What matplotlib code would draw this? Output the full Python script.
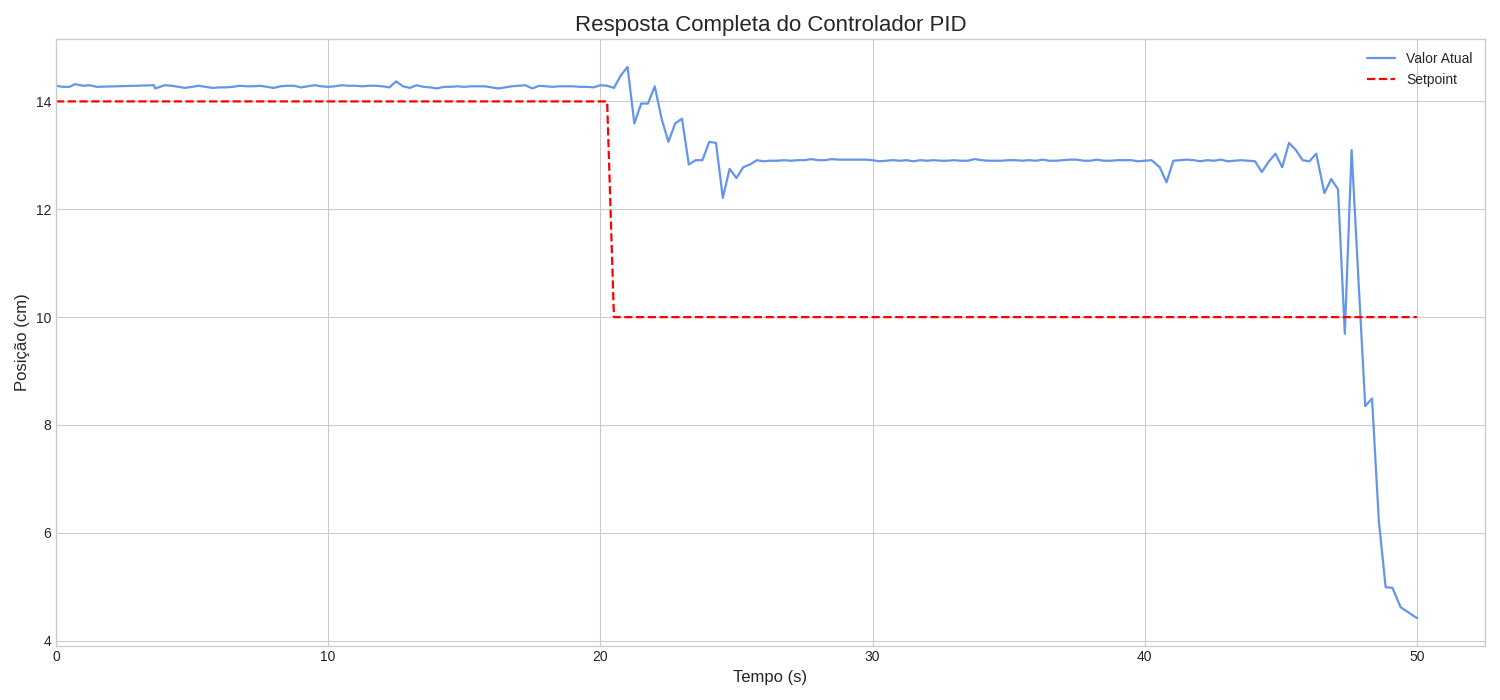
import numpy as np
import matplotlib
matplotlib.use("Agg")
import matplotlib.pyplot as plt

# sample times (s) as logged by the controller
TEMPO = [
    0.0, 0.25, 0.5, 0.7, 1.0, 1.25, 1.5, 3.6, 3.65,
    4.0, 4.25, 4.5, 4.75, 5.0, 5.25, 5.5, 5.75, 6.0, 6.25,
    6.5, 6.75, 7.0, 7.25, 7.5, 7.75, 8.0, 8.25, 8.5, 8.75,
    9.0, 9.25, 9.5, 9.75, 10.0, 10.25, 10.5, 10.75, 11.0, 11.25,
    11.5, 11.75, 12.0, 12.25, 12.5, 12.75, 13.0, 13.25, 13.5, 13.75,
    14.0, 14.25, 14.5, 14.75, 15.0, 15.25, 15.5, 15.75, 16.0, 16.25,
    16.5, 16.75, 17.0, 17.25, 17.5, 17.75, 18.0, 18.25, 18.5, 18.75,
    19.0, 19.25, 19.5, 19.75, 20.0, 20.25,
    20.5, 20.75, 21.0, 21.25, 21.5, 21.75, 22.0, 22.25, 22.5, 22.75,
    23.0, 23.25, 23.5, 23.75, 24.0, 24.25, 24.5, 24.75, 25.0, 25.25,
    25.5, 25.75, 26.0,
    26.25, 26.5, 26.75, 27.0, 27.25, 27.5, 27.75, 28.0, 28.25, 28.5,
    28.75, 29.0, 29.25, 29.5, 29.75, 30.0, 30.25, 30.5, 30.75, 31.0,
    31.25, 31.5, 31.75, 32.0, 32.25, 32.5, 32.75, 33.0, 33.25, 33.5,
    33.75, 34.0, 34.25, 34.5, 34.75, 35.0, 35.25, 35.5, 35.75, 36.0,
    36.25, 36.5, 36.75, 37.0, 37.25, 37.5, 37.75, 38.0, 38.25, 38.5,
    38.75, 39.0, 39.25, 39.5, 39.75, 40.0, 40.25,
    40.55, 40.8, 41.05, 41.3, 41.55, 41.8, 42.05, 42.3, 42.55, 42.8,
    43.05, 43.3, 43.55, 43.8, 44.05, 44.3, 44.55, 44.8, 45.05, 45.3,
    45.55, 45.8, 46.05, 46.3,
    46.6, 46.85, 47.1, 47.35, 47.6, 47.85, 48.1, 48.35, 48.6, 48.85,
    49.1, 49.4, 49.7, 50.0,
]

# measured position (cm)
POSICAO = [
    14.29, 14.27, 14.27, 14.32, 14.29, 14.30, 14.27, 14.30, 14.24,
    14.30, 14.29, 14.27, 14.25, 14.27, 14.29, 14.27, 14.25, 14.26, 14.26,
    14.27, 14.29, 14.28, 14.28, 14.29, 14.27, 14.25, 14.28, 14.29, 14.29,
    14.26, 14.28, 14.30, 14.28, 14.27, 14.28, 14.30, 14.29, 14.29, 14.28,
    14.29, 14.29, 14.28, 14.26, 14.37, 14.28, 14.25, 14.30, 14.27, 14.26,
    14.24, 14.27, 14.27, 14.28, 14.27, 14.28, 14.28, 14.28, 14.26, 14.24,
    14.26, 14.28, 14.29, 14.30, 14.24, 14.29, 14.28, 14.27, 14.28, 14.28,
    14.28, 14.27, 14.27, 14.26, 14.30, 14.29,
    14.25, 14.48, 14.64, 13.59, 13.96, 13.96, 14.28, 13.68, 13.25, 13.59,
    13.68, 12.83, 12.91, 12.91, 13.25, 13.23, 12.21, 12.75, 12.58, 12.78,
    12.83, 12.91, 12.89,
    12.90, 12.90, 12.91, 12.90, 12.91, 12.91, 12.93, 12.91, 12.91, 12.93,
    12.92, 12.92, 12.92, 12.92, 12.92, 12.91, 12.89, 12.90, 12.91, 12.90,
    12.91, 12.89, 12.91, 12.90, 12.91, 12.90, 12.90, 12.91, 12.90, 12.90,
    12.93, 12.91, 12.90, 12.90, 12.90, 12.91, 12.91, 12.90, 12.91, 12.90,
    12.92, 12.90, 12.90, 12.91, 12.92, 12.92, 12.90, 12.90, 12.92, 12.90,
    12.90, 12.91, 12.91, 12.91, 12.89, 12.90, 12.91,
    12.78, 12.50, 12.90, 12.91, 12.92, 12.91, 12.89, 12.91, 12.90, 12.92,
    12.89, 12.90, 12.91, 12.90, 12.89, 12.69, 12.88, 13.03, 12.78, 13.23,
    13.10, 12.91, 12.89, 13.03,
    12.30, 12.56, 12.37, 9.69, 13.10, 10.70, 8.35, 8.49, 6.22, 4.99,
    4.98, 4.62, 4.52, 4.42,
]

# setpoint step: 14 cm, then 10 cm from this time on
SETPOINT_NIVEIS = [14.0, 10.0]
SETPOINT_TROCA = 20.5

plt.style.use("seaborn-v0_8-whitegrid")
plt.rcParams["font.family"] = ["Liberation Sans", "DejaVu Sans"]

t = np.array(TEMPO)
pos = np.array(POSICAO)
sp = np.where(t < SETPOINT_TROCA, SETPOINT_NIVEIS[0], SETPOINT_NIVEIS[1])

fig, ax = plt.subplots(figsize=(15, 7), dpi=100)
ax.plot(t, pos, color="cornflowerblue", lw=1.6, label="Valor Atual")
ax.plot(t, sp, color="red", ls="--", lw=1.6, label="Setpoint")
ax.set_xlim(left=0)
ax.set_title("Resposta Completa do Controlador PID", fontsize=16)
ax.set_xlabel("Tempo (s)", fontsize=12)
ax.set_ylabel("Posição (cm)", fontsize=12)
ax.tick_params(labelsize=10)
ax.legend(loc="upper right", fontsize=10)
for s in ax.spines.values():
    s.set_visible(True)
    s.set_color("#cccccc")

fig.tight_layout()
fig.savefig("out.png")
